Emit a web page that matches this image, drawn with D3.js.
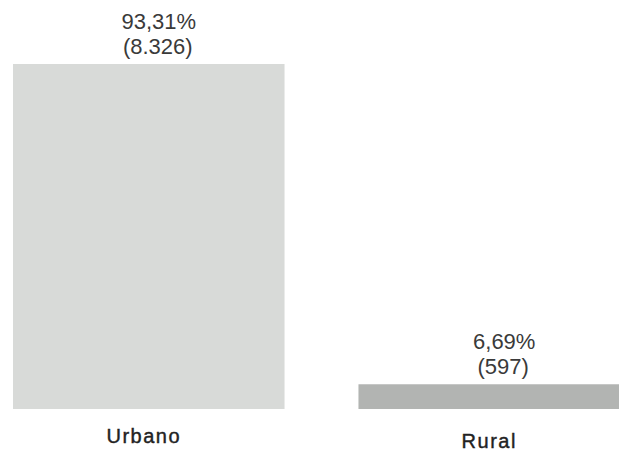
<!DOCTYPE html>
<html>
<head>
<meta charset="utf-8">
<script src="https://cdn.jsdelivr.net/npm/d3@7"></script>
<style>
  body { margin: 0; background: #fff; }
  text { font-family: "Liberation Sans", Arial, sans-serif; fill: #3a3a3a; }
</style>
</head>
<body>
<div id="chart"></div>
<script>
var categories = ["Urbano", "Rural"];
var percents = [93.31, 6.69];
var counts = ["8.326", "597"];
var pctLabels = ["93,31%", "6,69%"];
var colors = ["#d8dad8", "#b2b4b2"];

var width = 619, height = 454;
var baseline = 409;

var svg = d3.select("#chart")
    .append("svg")
    .attr("width", width)
    .attr("height", height);

// x: two wide bars, the second runs off the right edge
var x = d3.scaleBand()
    .domain(categories)
    .range([13, 630])
    .paddingInner(0.214)
    .paddingOuter(0);

var y = d3.scaleLinear()
    .domain([0, 93.31])
    .range([baseline, 64]);

var data = categories.map(function (c, i) {
    return { cat: c, pct: percents[i], count: counts[i], label: pctLabels[i], color: colors[i] };
});

// bars
svg.append("g")
    .selectAll("rect")
    .data(data)
    .enter()
    .append("rect")
    .attr("x", function (d) { return x(d.cat); })
    .attr("y", function (d) { return y(d.pct); })
    .attr("width", x.bandwidth())
    .attr("height", function (d) { return baseline - y(d.pct); })
    .style("fill", function (d) { return d.color; });

// percent labels above bars
svg.append("g")
    .selectAll("text")
    .data(data)
    .enter()
    .append("text")
    .attr("x", function (d) { return x(d.cat) + x.bandwidth() / 2 + 10; })
    .attr("y", function (d) { return y(d.pct) - 35; })
    .style("text-anchor", "middle")
    .style("font-size", "22px")
    .text(function (d) { return d.label; });

// counts
svg.append("g")
    .selectAll("text")
    .data(data)
    .enter()
    .append("text")
    .attr("x", function (d) { return x(d.cat) + x.bandwidth() / 2 + 9; })
    .attr("y", function (d) { return y(d.pct) - 10; })
    .style("text-anchor", "middle")
    .style("font-size", "22px")
    .text(function (d) { return "(" + d.count + ")"; });

// category labels
svg.append("g")
    .selectAll("text")
    .data(data)
    .enter()
    .append("text")
    .attr("x", function (d) { return x(d.cat) + x.bandwidth() / 2 - 5; })
    .attr("y", function (d, i) { return i === 0 ? 443 : 448; })
    .style("text-anchor", "middle")
    .style("font-size", "20px")
    .style("fill", "#222")
    .style("stroke", "#222")
    .style("stroke-width", "0.4px")
    .style("letter-spacing", "1.5px")
    .text(function (d) { return d.cat; });
</script>
</body>
</html>
